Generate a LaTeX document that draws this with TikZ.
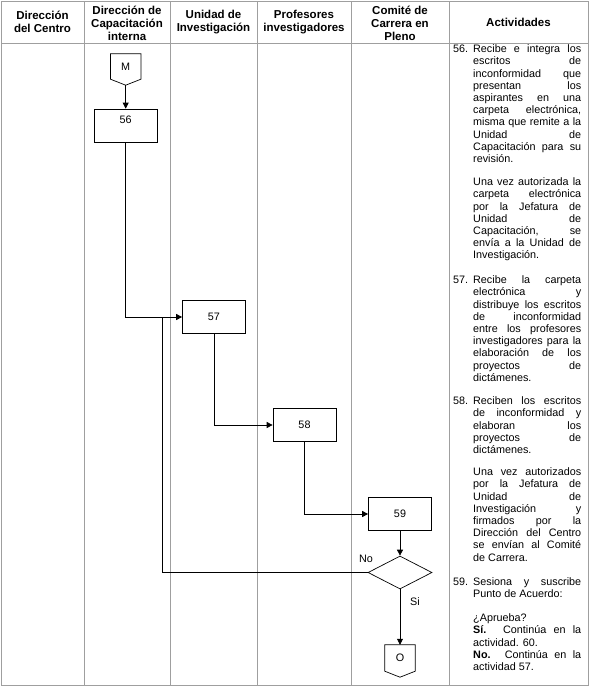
\documentclass[tikz,border=0pt]{standalone}
\usepackage{fontspec}
\setmainfont{Liberation Sans}
\usetikzlibrary{arrows.meta,shapes.geometric,calc}
\hbadness=10000
\begin{document}
\begin{tikzpicture}[x=1pt,y=-1pt,
  grid/.style={draw=gray!75, line width=0.8pt},
  hdr/.style={font=\bfseries\fontsize{11.5}{13}\selectfont, align=center, inner sep=0},
  box/.style={draw, line width=0.7pt, minimum width=63pt, minimum height=33pt, inner sep=0, font=\fontsize{10.8}{12}\selectfont},
  dec/.style={draw, diamond, line width=0.7pt, minimum width=64pt, minimum height=33pt, inner sep=0},
  conn/.style={minimum width=30pt, inner sep=0, font=\fontsize{10.8}{12}\selectfont},
  flow/.style={line width=0.7pt, -{Triangle[length=6pt,width=6pt]}},
  plain/.style={line width=0.7pt},
  act/.style={anchor=north west, text width=108pt, inner sep=0, align=justify, font=\fontsize{10.8}{12.2}\selectfont},
  lbl/.style={font=\fontsize{10.8}{12}\selectfont, inner sep=0}
]
\useasboundingbox (0,0) rectangle (590,689);
\draw[grid] (1,1) rectangle (588,685);
\draw[grid] (1,43) -- (588,43);
\foreach \x in {84,170,257,351,449} \draw[grid] (\x,1) -- (\x,685);

% headers
\node[hdr] (h1) at (42.5,22) {Dirección\\del Centro};
\node[hdr] (h2) at (127,23) {Dirección de\\Capacitación\\interna};
\node[hdr] (h3) at (213.5,22) {Unidad de\\Investigación};
\node[hdr] (h4) at (304,22) {Profesores\\investigadores};
\node[hdr] (h5) at (400,23) {Comité de\\Carrera en\\Pleno};
\node[hdr] (h6) at (518.5,22) {Actividades};

% flow
\node[conn, minimum height=25pt] (M) at (125.7,66.5) {M};
\draw[plain] (M.north west) -- (M.north east) -- (M.south east) -- ($(M.south)+(0,6)$) coordinate (Mt) -- (M.south west) -- cycle;
\node[box, label={[lbl,yshift=5.5pt]center:56}] (n56) at (125.7,125.5) {};
\node[box] (n57) at (214,317) {57};
\node[box] (n58) at (304.5,425) {58};
\node[box] (n59) at (400,514) {59};
\node[dec] (d) at (400,572.5) {};
\node[conn, minimum height=26pt] (O) at (400,658) {O};
\draw[plain] (O.north west) -- (O.north east) -- (O.south east) -- ($(O.south)+(0,6)$) -- (O.south west) -- cycle;

\draw[flow] (Mt) -- (n56.north);
\draw[flow] (n56.south) |- (n57.west);
\draw[flow] (n57.south) |- (n58.west);
\draw[flow] (n58.south) |- (n59.west);
\draw[flow] (n59.south) -- (d.north);
\coordinate (back) at (162,572.5);
\draw[plain] (d.west) -- (back) -- (back |- n57.west);
\draw[flow] (d.south) -- (O.north);
\node[lbl] (no) at (366,559) {No};
\node[lbl] (si) at (415,602) {Si};

% activities
\node[act] (a56) at (473,44) {\noindent\strut\llap{\makebox[20pt][l]{56.}}Recibe e integra los\linebreak escritos de\linebreak inconformidad que\linebreak presentan los\linebreak aspirantes en una\linebreak carpeta electrónica,\linebreak misma que remite a la\linebreak Unidad de\linebreak Capacitación para su\linebreak revisión.};
\node[act] (a56b) at (473,177) {\noindent\strut Una vez autorizada la\linebreak carpeta electrónica\linebreak por la Jefatura de\linebreak Unidad de\linebreak Capacitación, se\linebreak envía a la Unidad de\linebreak Investigación.};
\node[act] (a57) at (473,275) {\noindent\strut\llap{\makebox[20pt][l]{57.}}Recibe la carpeta\linebreak electrónica y\linebreak distribuye los escritos\linebreak de inconformidad\linebreak entre los profesores\linebreak investigadores para la\linebreak elaboración de los\linebreak proyectos de\linebreak dictámenes.};
\node[act] (a58) at (473,396) {\noindent\strut\llap{\makebox[20pt][l]{58.}}Reciben los escritos\linebreak de inconformidad y\linebreak elaboran los\linebreak proyectos de\linebreak dictámenes.};
\node[act] (a58b) at (473,467) {\noindent\strut Una vez autorizados\linebreak por la Jefatura de\linebreak Unidad de\linebreak Investigación y\linebreak firmados por la\linebreak Dirección del Centro\linebreak se envían al Comité\linebreak de Carrera.};
\node[act] (a59) at (473,577) {\noindent\strut\llap{\makebox[20pt][l]{59.}}Sesiona y suscribe\linebreak Punto de Acuerdo:};
\node[act] (a59b) at (473,613) {\noindent\strut ¿Aprueba?\\ \textbf{Sí.} Continúa en la\linebreak actividad. 60.\\ \textbf{No.} Continúa en la\linebreak actividad 57.};
\end{tikzpicture}
\end{document}
